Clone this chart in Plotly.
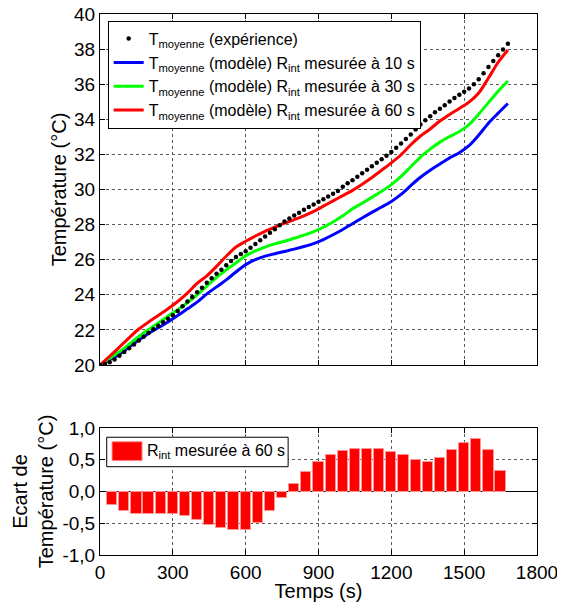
import plotly.graph_objects as go

# ---------------- data ----------------
t_exp = list(range(0, 1681, 20))
T_exp = [20.00, 20.05, 20.15, 20.32, 20.52, 20.74, 20.95, 21.17, 21.39, 21.61,
         21.83, 22.03, 22.23, 22.43, 22.63, 22.84, 23.08, 23.35, 23.62, 23.88,
         24.14, 24.40, 24.68, 24.95, 25.20, 25.43, 25.68, 25.93, 26.15, 26.32,
         26.48, 26.68, 26.90, 27.11, 27.32, 27.53, 27.74, 27.96, 28.17, 28.35,
         28.52, 28.68, 28.84, 29.00, 29.15, 29.30, 29.45, 29.60, 29.76, 29.92,
         30.15, 30.36, 30.53, 30.72, 30.92, 31.12, 31.33, 31.53, 31.73, 31.93,
         32.14, 32.38, 32.62, 32.88, 33.14, 33.42, 33.70, 33.95, 34.18, 34.40,
         34.60, 34.80, 35.02, 35.22, 35.40, 35.57, 35.75, 36.00, 36.28, 36.62,
         36.98, 37.32, 37.65, 37.98, 38.30]

t_model = list(range(0, 1681, 40))
T_10s = [20.00, 20.30, 20.62, 21.02, 21.42, 21.80, 22.12, 22.45, 22.82, 23.20,
         23.58, 24.05, 24.45, 24.85, 25.30, 25.72, 26.00, 26.20, 26.34, 26.47,
         26.60, 26.75, 26.92, 27.15, 27.42, 27.72, 28.05, 28.38, 28.70, 29.00,
         29.32, 29.72, 30.22, 30.70, 31.10, 31.45, 31.80, 32.10, 32.50, 33.10,
         33.78, 34.35, 34.90]
T_30s = [20.00, 20.38, 20.75, 21.18, 21.62, 22.02, 22.40, 22.78, 23.15, 23.55,
         24.00, 24.50, 25.00, 25.42, 25.82, 26.22, 26.50, 26.72, 26.90, 27.05,
         27.22, 27.40, 27.60, 27.85, 28.15, 28.50, 28.90, 29.22, 29.55, 29.90,
         30.28, 30.75, 31.30, 31.85, 32.30, 32.70, 33.02, 33.30, 33.70, 34.30,
         34.95, 35.60, 36.18]
T_60s = [20.00, 20.50, 21.02, 21.55, 22.05, 22.45, 22.82, 23.20, 23.62, 24.10,
         24.65, 25.08, 25.62, 26.20, 26.72, 27.05, 27.35, 27.62, 27.85, 28.08,
         28.28, 28.50, 28.75, 29.05, 29.35, 29.65, 29.95, 30.30, 30.68, 31.10,
         31.52, 31.98, 32.55, 33.05, 33.45, 33.90, 34.28, 34.62, 34.98, 35.50,
         36.35, 37.25, 37.95]

t_bar = list(range(50, 1651, 50))
ecart_60s = [-0.22, -0.31, -0.36, -0.36, -0.36, -0.36, -0.39, -0.45, -0.52, -0.57,
             -0.61, -0.60, -0.50, -0.30, -0.10, 0.12, 0.30, 0.46, 0.58, 0.64,
             0.67, 0.67, 0.67, 0.63, 0.58, 0.50, 0.47, 0.52, 0.65, 0.77,
             0.82, 0.65, 0.32]

x_ticks = [0, 300, 600, 900, 1200, 1500, 1800]
y_ticks_top = list(range(20, 41, 2))
y_ticks_bot = [-1.0, -0.5, 0.0, 0.5, 1.0]
y_ticktext_bot = ["-1,0", "-0,5", "0,0", "0,5", "1,0"]

# ---------------- figure ----------------
FONT = "Liberation Sans, Arial, Helvetica, sans-serif"
fig = go.Figure()

line_names = [
    ("T<sub>moyenne</sub> (modèle) R<sub>int</sub> mesurée à 10 s", T_10s, "rgb(0,0,255)", 2),
    ("T<sub>moyenne</sub> (modèle) R<sub>int</sub> mesurée à 30 s", T_30s, "rgb(0,255,0)", 3),
    ("T<sub>moyenne</sub> (modèle) R<sub>int</sub> mesurée à 60 s", T_60s, "rgb(255,0,0)", 4),
]
for name, vals, col, rank in line_names:
    fig.add_trace(go.Scatter(x=t_model, y=vals, mode="lines",
                             line=dict(color=col, width=3, shape="spline", smoothing=0.8),
                             name=name, legendrank=rank, legendgroup=name,
                             xaxis="x", yaxis="y"))
fig.add_trace(go.Scatter(x=t_exp, y=T_exp, mode="markers",
                         marker=dict(color="black", size=4.5),
                         name="T<sub>moyenne</sub> (expérience)",
                         legendrank=1, legendgroup="exp", xaxis="x", yaxis="y"))

fig.add_trace(go.Bar(x=t_bar, y=ecart_60s, width=42,
                     marker=dict(color="rgb(255,0,0)",
                                 line=dict(color="rgb(255,150,150)", width=1)),
                     showlegend=False, xaxis="x2", yaxis="y2"))

axis_common = dict(showline=True, linecolor="black", linewidth=1, mirror="ticks",
                   ticks="inside", ticklen=5, tickcolor="black", automargin=False,
                   ticklabeloverflow="allow",
                   showgrid=True, gridcolor="rgb(90,90,90)", griddash="dot", gridwidth=1,
                   zeroline=False, tickfont=dict(size=19, family=FONT, color="black"))

fig.update_layout(
    template="none",
    width=557, height=594,
    margin=dict(l=92, r=28, t=6, b=47, autoexpand=False),
    paper_bgcolor="white", plot_bgcolor="white",
    font=dict(family=FONT, size=19, color="black"),
    xaxis=dict(axis_common, domain=[0, 1], anchor="y", range=[0, 1800],
               tickvals=x_ticks, showticklabels=False),
    yaxis=dict(axis_common, domain=[0.3512, 1], anchor="x", range=[20, 40],
               tickvals=y_ticks_top,
               title=dict(text="Température (°C)", font=dict(size=20), standoff=2)),
    xaxis2=dict(axis_common, domain=[0, 1], anchor="y2", range=[0, 1800],
                tickvals=x_ticks,
                title=dict(text="Temps (s)", font=dict(size=20), standoff=2)),
    yaxis2=dict(axis_common, domain=[0, 0.2348], anchor="x2", range=[-1, 1],
                tickvals=y_ticks_bot, ticktext=y_ticktext_bot,
                zeroline=True, zerolinecolor="black", zerolinewidth=1,
                title=dict(text="Ecart de<br>Température (°C)", font=dict(size=20), standoff=3)),
    legend=dict(x=0.0176, y=0.9876, xanchor="left", yanchor="top",
                bgcolor="white", bordercolor="black", borderwidth=1,
                font=dict(size=16, family=FONT, color="black"),
                tracegroupgap=0, itemwidth=30),
    showlegend=True,
    bargap=0,
)

# legend of the bottom panel (drawn as box + patch + text)
fig.add_shape(type="rect", xref="x2 domain", yref="y2 domain",
              x0=0.0154, x1=0.4305, y0=0.695, y1=0.927,
              line=dict(color="black", width=1), fillcolor="white", layer="above")
fig.add_shape(type="rect", xref="x2 domain", yref="y2 domain",
              x0=0.0275, x1=0.0963, y0=0.7425, y1=0.892,
              line=dict(color="rgb(255,150,150)", width=1), fillcolor="rgb(255,0,0)",
              layer="above")
fig.add_annotation(xref="x2 domain", yref="y2 domain", x=0.103, y=0.815,
                   xanchor="left", yanchor="middle", showarrow=False,
                   text="R<sub>int</sub> mesurée à 60 s",
                   font=dict(size=16, family=FONT, color="black"))

fig.write_html("out.html")
